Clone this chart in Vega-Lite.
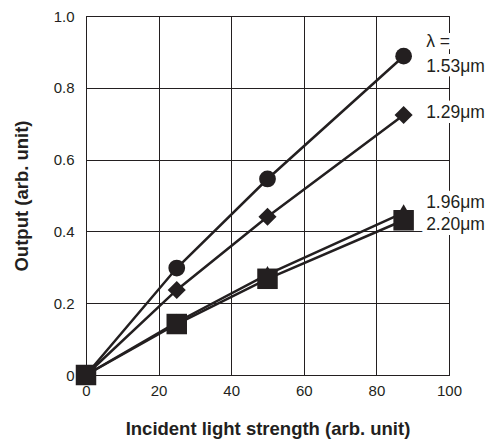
{
  "$schema": "https://vega.github.io/schema/vega-lite/v6.json",
  "width": 363,
  "height": 359,
  "autosize": {"type": "none"},
  "padding": {"left": 86, "top": 16, "right": 44, "bottom": 67},
  "config": {
    "font": "Liberation Sans",
    "view": {"stroke": "#231f20", "strokeWidth": 1},
    "axis": {
      "labelFont": "Liberation Sans",
      "titleFont": "Liberation Sans",
      "labelFontSize": 15,
      "titleFontSize": 18.5,
      "labelColor": "#231f20",
      "titleColor": "#231f20",
      "titleFontWeight": "bold",
      "labelFlush": false,
      "labelOverlap": false,
      "ticks": false,
      "grid": true,
      "gridColor": "#231f20",
      "gridOpacity": 1,
      "gridWidth": 1,
      "domainColor": "#231f20",
      "domainWidth": 1
    }
  },
  "datasets": {
    "series": [
      {"wavelength": "1.53", "light": 0, "output": 0},
      {"wavelength": "1.53", "light": 25, "output": 0.298},
      {"wavelength": "1.53", "light": 50, "output": 0.546},
      {"wavelength": "1.53", "light": 87.5, "output": 0.888},
      {"wavelength": "1.29", "light": 0, "output": 0},
      {"wavelength": "1.29", "light": 25, "output": 0.237},
      {"wavelength": "1.29", "light": 50, "output": 0.441},
      {"wavelength": "1.29", "light": 87.5, "output": 0.724},
      {"wavelength": "1.96", "light": 0, "output": 0},
      {"wavelength": "1.96", "light": 25, "output": 0.147},
      {"wavelength": "1.96", "light": 50, "output": 0.28},
      {"wavelength": "1.96", "light": 87.5, "output": 0.452},
      {"wavelength": "2.20", "light": 0, "output": 0},
      {"wavelength": "2.20", "light": 25, "output": 0.142},
      {"wavelength": "2.20", "light": 50, "output": 0.268},
      {"wavelength": "2.20", "light": 87.5, "output": 0.431}
    ],
    "labels": [
      {"text": "λ =", "light": 93.7, "output": 0.928},
      {"text": "1.53μm", "light": 93.7, "output": 0.858},
      {"text": "1.29μm", "light": 93.7, "output": 0.730},
      {"text": "1.96μm", "light": 93.7, "output": 0.479},
      {"text": "2.20μm", "light": 93.7, "output": 0.418}
    ]
  },
  "layer": [
    {
      "data": {"name": "series"},
      "mark": {"type": "line", "color": "#231f20", "strokeWidth": 2.5},
      "encoding": {
        "x": {
          "field": "light", "type": "quantitative",
          "scale": {"domain": [0, 100], "nice": false},
          "axis": {"values": [0, 20, 40, 60, 80, 100], "labelPadding": 8, "titlePadding": 21, "title": "Incident light strength (arb. unit)"}
        },
        "y": {
          "field": "output", "type": "quantitative",
          "scale": {"domain": [0, 1], "nice": false},
          "axis": {"values": [0, 0.2, 0.4, 0.6, 0.8, 1.0], "labelPadding": 12, "titlePadding": 22, "labelExpr": "datum.value == 0 ? '0' : format(datum.value, '.1f')", "title": "Output (arb. unit)"}
        },
        "detail": {"field": "wavelength"}
      }
    },
    {
      "data": {"name": "series"},
      "mark": {"type": "point", "filled": true, "color": "#231f20", "opacity": 1},
      "encoding": {
        "x": {"field": "light", "type": "quantitative"},
        "y": {"field": "output", "type": "quantitative"},
        "shape": {
          "field": "wavelength", "type": "nominal",
          "scale": {"domain": ["1.53", "1.29", "1.96", "2.20"], "range": ["circle", "diamond", "triangle-up", "square"]},
          "legend": null
        },
        "size": {
          "field": "wavelength", "type": "nominal",
          "scale": {"domain": ["1.53", "1.29", "1.96", "2.20"], "range": [280, 420, 240, 225]},
          "legend": null
        }
      }
    },
    {
      "data": {"name": "labels"},
      "mark": {"type": "text", "align": "left", "baseline": "middle", "fontSize": 17.5, "font": "Liberation Sans", "fill": "white", "stroke": "white", "strokeWidth": 10, "strokeJoin": "round"},
      "encoding": {
        "x": {"field": "light", "type": "quantitative"},
        "y": {"field": "output", "type": "quantitative"},
        "text": {"field": "text"}
      }
    },
    {
      "data": {"name": "labels"},
      "mark": {"type": "text", "align": "left", "baseline": "middle", "fontSize": 17.5, "font": "Liberation Sans", "color": "#231f20"},
      "encoding": {
        "x": {"field": "light", "type": "quantitative"},
        "y": {"field": "output", "type": "quantitative"},
        "text": {"field": "text"}
      }
    }
  ]
}
